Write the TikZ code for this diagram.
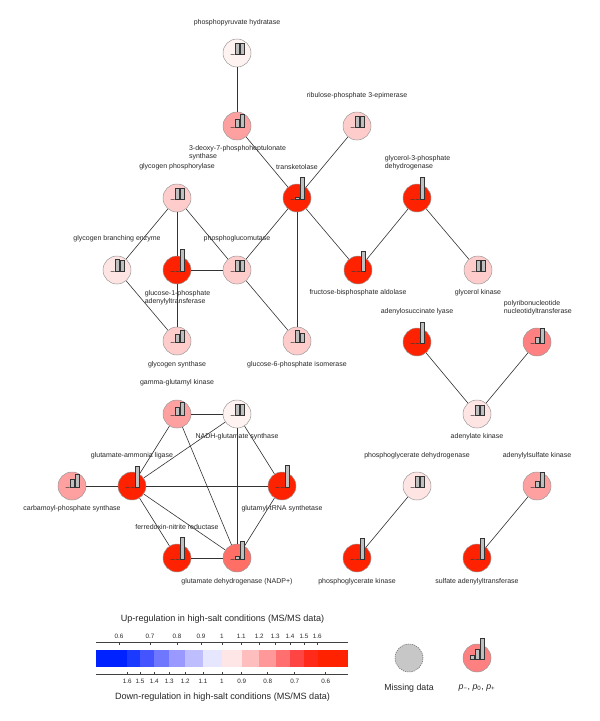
\documentclass[tikz,border=0pt]{standalone}
\usepackage{fontspec}
\setmainfont{Liberation Sans}
\definecolor{rA}{HTML}{FF2200}
\definecolor{rB}{HTML}{FF6F66}
\definecolor{rC}{HTML}{FF8080}
\definecolor{rD}{HTML}{FFA0A0}
\definecolor{rE}{HTML}{FFCCCC}
\definecolor{rF}{HTML}{FFE4E4}
\definecolor{rG}{HTML}{FFF3F1}
\definecolor{cb1}{HTML}{0022FF}
\definecolor{cb2}{HTML}{1A3AFF}
\definecolor{cb3}{HTML}{4455FF}
\definecolor{cb4}{HTML}{6F77FF}
\definecolor{cb5}{HTML}{9999FF}
\definecolor{cb6}{HTML}{BEBEFF}
\definecolor{cb7}{HTML}{E6E6FF}
\definecolor{cb8}{HTML}{FFE6E6}
\definecolor{cb9}{HTML}{FFBEBE}
\definecolor{cb10}{HTML}{FF9999}
\definecolor{cb11}{HTML}{FF6F6F}
\definecolor{cb12}{HTML}{FF4444}
\definecolor{cb13}{HTML}{FF2A1A}
\definecolor{cb14}{HTML}{FF2200}
\newcommand\pbars[4]{%
  \begin{scope}[shift={(#1)}]
    \draw[barbox] (-6.5,1) rectangle (-2.5,{1-#2});
    \draw[barbox] (-1.5,1) rectangle (2.5,{1-#3});
    \draw[barbox] (3.5,1) rectangle (7.5,{1-#4});
  \end{scope}}
\begin{document}
\begin{tikzpicture}[x=1pt,y=-1pt,
  enz/.style={circle, draw=black!40, line width=0.5pt, minimum size=28pt, inner sep=0pt},
  lab/.style={font=\fontsize{7}{8.3}\selectfont, align=left, inner sep=0pt, text=black!85},
  edge/.style={draw=black!80, line width=0.6pt},
  barbox/.style={draw=black!80, fill=black!25, line width=0.5pt},
  ttl/.style={font=\fontsize{9.1}{10}\selectfont, inner sep=0pt, text=black!85},
  lgl/.style={font=\fontsize{8.8}{10}\selectfont, inner sep=0pt, text=black!85},
  tkl/.style={font=\fontsize{6.3}{7}\selectfont, inner sep=0pt, text=black!85},
  axis/.style={draw=black!75, line width=0.5pt}]
\useasboundingbox (0,0) rectangle (600,721);

% ---- labels
\node[lab] (l1) at (237,23) {phosphopyruvate hydratase};
\node[lab] (l2) at (237.5,152.5) {3-deoxy-7-phosphoheptulonate\\synthase};
\node[lab] (l3) at (357,96) {ribulose-phosphate 3-epimerase};
\node[lab] (l4) at (297,167) {transketolase};
\node[lab] (l5) at (417.5,163) {glycerol-3-phosphate\\dehydrogenase};
\node[lab] (l6) at (177,167) {glycogen phosphorylase};
\node[lab] (l7) at (117,239) {glycogen branching enzyme};
\node[lab] (l8) at (177.5,297.5) {glucose-1-phosphate\\adenylyltransferase};
\node[lab] (l9) at (237,239) {phosphoglucomutase};
\node[lab] (l10) at (358,293) {fructose-bisphosphate aldolase};
\node[lab] (l11) at (478,293) {glycerol kinase};
\node[lab] (l12) at (177,365) {glycogen synthase};
\node[lab] (l13) at (297,365) {glucose-6-phosphate isomerase};
\node[lab] (l14) at (417,312) {adenylosuccinate lyase};
\node[lab] (l15) at (537.8,307.5) {polyribonucleotide\\nucleotidyltransferase};
\node[lab] (l16) at (477,437) {adenylate kinase};
\node[lab] (l17) at (417,456) {phosphoglycerate dehydrogenase};
\node[lab] (l18) at (537,456) {adenylylsulfate kinase};
\node[lab] (l19) at (477,582) {sulfate adenylyltransferase};
\node[lab] (l20) at (357,582) {phosphoglycerate kinase};
\node[lab] (l21) at (237,582) {glutamate dehydrogenase (NADP+)};
\node[lab] (l22) at (177,527) {ferredoxin-nitrite reductase};
\node[lab] (l23) at (177,383) {gamma-glutamyl kinase};
\node[lab] (l24) at (237,437) {NADH-glutamate synthase};
\node[lab] (l25) at (132,456) {glutamate-ammonia ligase};
\node[lab] (l26) at (72,509) {carbamoyl-phosphate synthase};
\node[lab] (l27) at (282,509) {glutamyl-tRNA synthetase};

% ---- enzyme nodes
\node[enz, fill=rG] (php) at (237,53) {};
\node[enz, fill=rD] (ddp) at (237,126) {};
\node[enz, fill=rE] (rpe) at (357,126) {};
\node[enz, fill=rA] (tkt) at (297,198) {};
\node[enz, fill=rA] (gpd) at (417,198) {};
\node[enz, fill=rE] (gph) at (177,198) {};
\node[enz, fill=rF] (gbe) at (117,270) {};
\node[enz, fill=rA] (gat) at (177,270) {};
\node[enz, fill=rE] (pgm) at (237,270) {};
\node[enz, fill=rA] (fba) at (358,270) {};
\node[enz, fill=rE] (gk)  at (478,270) {};
\node[enz, fill=rE] (gs)  at (177,341) {};
\node[enz, fill=rE] (gpi) at (297,341) {};
\node[enz, fill=rA] (asl) at (417,342) {};
\node[enz, fill=rC] (pnp) at (537,342) {};
\node[enz, fill=rF] (adk) at (477,414) {};
\node[enz, fill=rF] (pgd) at (417,486) {};
\node[enz, fill=rD] (ask) at (537,486) {};
\node[enz, fill=rA] (sat) at (477,558) {};
\node[enz, fill=rA] (pgk) at (357,558) {};
\node[enz, fill=rB] (gdh) at (237,558) {};
\node[enz, fill=rA] (fnr) at (177,558) {};
\node[enz, fill=rD] (ggk) at (177,414) {};
\node[enz, fill=rG] (ngs) at (237,414) {};
\node[enz, fill=rA] (gal) at (132,486) {};
\node[enz, fill=rD] (cps) at (72,486) {};
\node[enz, fill=rA] (grs) at (282,486) {};

% ---- edges
\draw[edge] (php) -- (ddp);
\draw[edge] (ddp) -- (tkt);
\draw[edge] (rpe) -- (tkt);
\draw[edge] (tkt) -- (pgm);
\draw[edge] (tkt) -- (fba);
\draw[edge] (tkt) -- (gpi);
\draw[edge] (gpd) -- (fba);
\draw[edge] (gpd) -- (gk);
\draw[edge] (gph) -- (gbe);
\draw[edge] (gph) -- (gat);
\draw[edge] (gph) -- (pgm);
\draw[edge] (gat) -- (pgm);
\draw[edge] (gat) -- (gs);
\draw[edge] (gbe) -- (gs);
\draw[edge] (pgm) -- (gpi);
\draw[edge] (asl) -- (adk);
\draw[edge] (pnp) -- (adk);
\draw[edge] (pgd) -- (pgk);
\draw[edge] (ask) -- (sat);
\draw[edge] (ggk) -- (ngs);
\draw[edge] (ggk) -- (gal);
\draw[edge] (ggk) -- (gdh);
\draw[edge] (ngs) -- (gal);
\draw[edge] (ngs) -- (gdh);
\draw[edge] (ngs) -- (grs);
\draw[edge] (cps) -- (gal);
\draw[edge] (gal) -- (grs);
\draw[edge] (gal) -- (fnr);
\draw[edge] (gal) -- (gdh);
\draw[edge] (fnr) -- (gdh);
\draw[edge] (grs) -- (gdh);

% ---- bar glyphs
\pbars{php}{0}{11}{11}
\pbars{ddp}{0}{8}{13}
\pbars{rpe}{0}{11}{11}
\pbars{tkt}{0}{1.5}{22}
\pbars{gpd}{0}{0}{22}
\pbars{gph}{0}{11}{11}
\pbars{gbe}{0}{12}{11}
\pbars{gat}{0}{0}{22}
\pbars{pgm}{0}{11}{11}
\pbars{fba}{0}{0}{20}
\pbars{gk}{0}{11}{11}
\pbars{gs}{0}{8}{12}
\pbars{gpi}{0}{12}{9}
\pbars{asl}{0}{0}{21}
\pbars{pnp}{0}{6}{15}
\pbars{adk}{0}{10}{10}
\pbars{pgd}{0}{11}{11}
\pbars{ask}{0}{6}{15}
\pbars{sat}{0}{0}{21}
\pbars{pgk}{0}{0}{21}
\pbars{gdh}{0}{3}{18}
\pbars{fnr}{0}{0}{22}
\pbars{ggk}{0}{8}{13}
\pbars{ngs}{0}{11}{11}
\pbars{gal}{0}{0}{21}
\pbars{cps}{0}{8}{13}
\pbars{grs}{0}{0}{22}

% ---- colour bar legend
\node[ttl] (uptitle) at (222.5,619) {Up-regulation in high-salt conditions (MS/MS data)};
\node[ttl] (dntitle) at (222.5,697) {Down-regulation in high-salt conditions (MS/MS data)};
\fill[cb1]  (96,650) rectangle (127.3,667);
\fill[cb2]  (127.3,650) rectangle (140,667);
\fill[cb3]  (140,650) rectangle (154.3,667);
\fill[cb4]  (154.3,650) rectangle (169.3,667);
\fill[cb5]  (169.3,650) rectangle (185.3,667);
\fill[cb6]  (185.3,650) rectangle (203,667);
\fill[cb7]  (203,650) rectangle (222.3,667);
\fill[cb8]  (222.3,650) rectangle (241.7,667);
\fill[cb9]  (241.7,650) rectangle (259,667);
\fill[cb10] (259,650) rectangle (275.7,667);
\fill[cb11] (275.7,650) rectangle (290,667);
\fill[cb12] (290,650) rectangle (304,667);
\fill[cb13] (304,650) rectangle (317.7,667);
\fill[cb14] (317.7,650) rectangle (348.3,667);
\draw[axis] (96,642) -- (348.3,642);
\draw[axis] (96,674) -- (348.3,674);
\foreach \xx/\tt in {119/0.6,150/0.7,177/0.8,201/0.9,222/1,241.3/1.1,259.3/1.2,275.3/1.3,290/1.4,304/1.5,317.3/1.6}{
  \draw[axis] (\xx,642) -- (\xx,644.5);
  \node[tkl] at (\xx,636) {\tt};
}
\foreach \xx/\tt in {127.3/1.6,140/1.5,154.3/1.4,169.3/1.3,185.3/1.2,203/1.1,222/1,241.7/0.9,267.7/0.8,294.7/0.7,325.7/0.6}{
  \draw[axis] (\xx,674) -- (\xx,671.5);
  \node[tkl] at (\xx,681) {\tt};
}

% ---- other legend items
\node[circle, minimum size=28pt, inner sep=0pt, fill=black!22, draw=black!55, line width=0.6pt, dash pattern=on 1.2pt off 1pt] (miss) at (409,658) {};
\node[lgl] (misslab) at (409,688) {Missing data};
\node[enz, fill=rC] (ex) at (477,658) {};
\pbars{ex}{4}{10}{21}
\node[lgl] (exlab) at (477,688) {\textit{p}\textsubscript{−}, \textit{p}\textsubscript{0}, \textit{p}\textsubscript{+}};
\end{tikzpicture}
\end{document}
